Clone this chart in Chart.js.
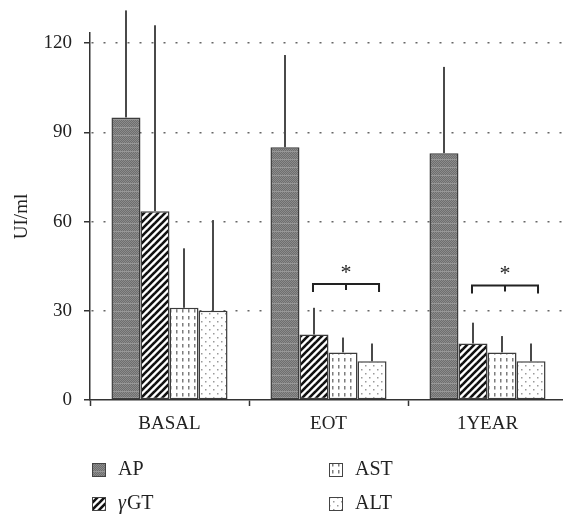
<!DOCTYPE html>
<html>
<head>
<meta charset="utf-8">
<script src="https://cdn.jsdelivr.net/npm/chart.js@4.4.0/dist/chart.umd.min.js"></script>
<style>
  html, body { margin: 0; padding: 0; background: #fff; overflow: hidden; }
  canvas { display: block; }
</style>
</head>
<body>
<canvas id="chart" width="567" height="519"></canvas>
<script>
// values (mean and mean+SD)
const categories = ["BASAL", "EOT", "1YEAR"];
const apValues = [95, 85, 83];
const apUpper = [131, 116, 112];
const ggtValues = [63.5, 22, 19];
const ggtUpper = [126, 31, 26];
const astValues = [31, 16, 16];
const astUpper = [51, 21, 21.5];
const altValues = [30, 13, 13];
const altUpper = [60.5, 19, 19];
const yTicks = [0, 30, 60, 90, 120];
const sigLevels = [null, 39, 38.5];

const FONT = "Liberation Serif";
const canvas = document.getElementById("chart");
const ctx = canvas.getContext("2d");

function makePattern(w, h, draw) {
  const c = document.createElement("canvas");
  c.width = w;
  c.height = h;
  const g = c.getContext("2d");
  draw(g, w, h);
  return ctx.createPattern(c, "repeat");
}

// dark stipple for AP
const apPattern = makePattern(4, 8, (g, w, h) => {
  g.fillStyle = "#6e6e6e";
  g.fillRect(0, 0, w, h);
  g.fillStyle = "#8c8c8c";
  for (let y = 0; y < h; y++) {
    for (let x = 0; x < w; x++) {
      if ((x + y) % 2 === 0) g.fillRect(x, y, 1, 1);
    }
  }
  g.fillStyle = "#979797";
  g.fillRect(0, 7, w, 1);
});

// diagonal hatching for gGT
const ggtPattern = makePattern(7, 7, (g, w, h) => {
  g.fillStyle = "#fff";
  g.fillRect(0, 0, w, h);
  g.strokeStyle = "#111";
  g.lineWidth = 2.6;
  for (const k of [-w, 0, w]) {
    g.beginPath();
    g.moveTo(k - 2, h + 2);
    g.lineTo(k + w + 2, -2);
    g.stroke();
  }
});

// short vertical dashes for AST
const astPattern = makePattern(6, 7, (g, w, h) => {
  g.fillStyle = "#fff";
  g.fillRect(0, 0, w, h);
  g.fillStyle = "#7d7d7d";
  g.fillRect(2, 1, 1.5, 3.5);
});

// sparse dots for ALT
const altPattern = makePattern(8, 8, (g, w, h) => {
  g.fillStyle = "#fff";
  g.fillRect(0, 0, w, h);
  g.fillStyle = "#9a9a9a";
  g.fillRect(1, 1, 1.5, 1.5);
  g.fillRect(5, 5, 1.5, 1.5);
});

const upperBounds = [apUpper, ggtUpper, astUpper, altUpper];

const errorBars = {
  id: "errorBars",
  afterDatasetsDraw(chart) {
    const c = chart.ctx;
    const y = chart.scales.y;
    c.save();
    c.strokeStyle = "#4a4a4a";
    c.lineWidth = 2;
    chart.data.datasets.forEach((ds, di) => {
      const meta = chart.getDatasetMeta(di);
      meta.data.forEach((bar, i) => {
        const top = y.getPixelForValue(upperBounds[di][i]);
        c.beginPath();
        c.moveTo(bar.x, bar.y);
        c.lineTo(bar.x, top);
        c.stroke();
      });
    });

    // significance brackets (gGT .. ALT)
    c.strokeStyle = "#222";
    c.lineWidth = 2;
    c.fillStyle = "#222";
    c.font = "22px '" + FONT + "'";
    c.textAlign = "center";
    c.textBaseline = "middle";
    sigLevels.forEach((lvl, i) => {
      if (lvl === null) return;
      const left = chart.getDatasetMeta(1).data[i].x - 1;
      const right = chart.getDatasetMeta(3).data[i].x + 7;
      const mid = (left + right) / 2;
      const by = y.getPixelForValue(lvl);
      c.beginPath();
      c.moveTo(left, by + 8);
      c.lineTo(left, by);
      c.lineTo(right, by);
      c.lineTo(right, by + 8);
      c.moveTo(mid, by);
      c.lineTo(mid, by + 6);
      c.stroke();
      c.fillText("*", mid, by - 11);
    });
    c.restore();
  }
};

const legendItems = [
  { label: "AP", pattern: apPattern, x: 92, y: 470 },
  { label: "AST", pattern: astPattern, x: 329, y: 470 },
  { label: "\u03b3GT", pattern: ggtPattern, x: 92, y: 504 },
  { label: "ALT", pattern: altPattern, x: 329, y: 504 }
];

const sideLegend = {
  id: "sideLegend",
  afterDraw(chart) {
    const c = chart.ctx;
    c.save();
    c.textBaseline = "middle";
    c.textAlign = "left";
    legendItems.forEach(item => {
      c.fillStyle = item.pattern;
      c.fillRect(item.x, item.y - 7, 14, 14);
      c.strokeStyle = "#444";
      c.lineWidth = 1;
      c.strokeRect(item.x + 0.5, item.y - 6.5, 13, 13);
      c.fillStyle = "#222";
      let tx = item.x + 26;
      if (item.label.startsWith("\u03b3")) {
        c.font = "italic 20px '" + FONT + "'";
        c.fillText("\u03b3", tx, item.y);
        tx += c.measureText("\u03b3").width + 1;
        c.font = "20px '" + FONT + "'";
        c.fillText(item.label.slice(1), tx, item.y);
      } else {
        c.font = "20px '" + FONT + "'";
        c.fillText(item.label, tx, item.y);
      }
    });
    c.restore();
  }
};

const barStyle = {
  borderColor: "#3c3c3c",
  borderWidth: 1.5,
  borderSkipped: false,
  categoryPercentage: 0.73,
  barPercentage: 1
};

new Chart(canvas, {
  type: "bar",
  data: {
    labels: categories,
    datasets: [
      { label: "AP", data: apValues, backgroundColor: apPattern, ...barStyle },
      { label: "\u03b3GT", data: ggtValues, backgroundColor: ggtPattern, ...barStyle },
      { label: "AST", data: astValues, backgroundColor: astPattern, ...barStyle },
      { label: "ALT", data: altValues, backgroundColor: altPattern, ...barStyle }
    ]
  },
  options: {
    responsive: false,
    animation: false,
    devicePixelRatio: 1,
    layout: { padding: { top: 33, left: 0, right: 0, bottom: 0 } },
    plugins: {
      legend: { display: false },
      tooltip: { enabled: false }
    },
    scales: {
      x: {
        offset: true,
        grid: {
          display: true,
          offset: true,
          drawOnChartArea: false,
          drawTicks: true,
          tickLength: 6,
          tickColor: "#333",
          tickWidth: 1.5,
          color: "#333"
        },
        border: { display: true, color: "#333", width: 1.5 },
        ticks: {
          color: "#222",
          padding: 7,
          font: { family: FONT, size: 19 }
        },
        afterFit: s => { s.height = 119; }
      },
      y: {
        min: 0,
        max: 123.4,
        afterBuildTicks: s => { s.ticks = yTicks.map(v => ({ value: v })); },
        grid: {
          color: c => (c.tick && c.tick.value === 0 ? "rgba(0,0,0,0)" : "#666"),
          lineWidth: 1.5,
          drawTicks: true,
          tickLength: 6,
          tickColor: "#333",
          tickWidth: 1.5,
          tickBorderDash: []
        },
        border: { display: true, color: "#333", width: 1.5, dash: [2, 10], dashOffset: 11 },
        ticks: {
          color: "#222",
          padding: 12,
          font: { family: FONT, size: 19 }
        },
        title: {
          display: true,
          text: "UI/ml",
          color: "#222",
          font: { family: FONT, size: 19 },
          padding: { top: 11, bottom: 0 }
        },
        afterFit: s => { s.width = 90; }
      }
    }
  },
  plugins: [errorBars, sideLegend]
});
</script>
</body>
</html>
